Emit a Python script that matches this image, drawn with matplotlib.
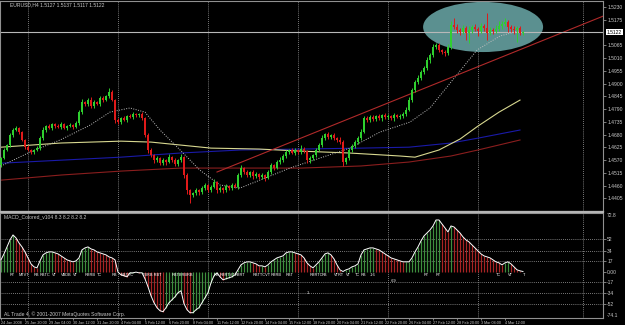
import numpy as np
import matplotlib
matplotlib.use("Agg")
import matplotlib.pyplot as plt
import matplotlib.transforms as mtransforms
from matplotlib.patches import Ellipse

plt.rcParams['font.family'] = ['Liberation Sans', 'DejaVu Sans']

# ---------------- data (EURUSD H4) ----------------
title_text = "EURUSD,H4 1.5127 1.5137 1.5117 1.5122"
macd_title = "MACD_Colored_v104 8.3 8.2 8.2 8.2"
copyright_text = "AL Trade 4, \u00a9 2001-2007 MetaQuotes Software Corp."

first_open = 1.4549
closes = [
    1.4579, 1.4614, 1.4635, 1.4678, 1.4700, 1.4708, 1.4691, 1.4657, 1.4626, 1.4614,
    1.4605, 1.4614, 1.4622, 1.4665, 1.4700, 1.4717, 1.4708, 1.4726, 1.4717, 1.4713,
    1.4726, 1.4708, 1.4717, 1.4721, 1.4713, 1.4730, 1.4777, 1.4820, 1.4812, 1.4829,
    1.4803, 1.4820, 1.4812, 1.4838, 1.4829, 1.4846, 1.4863, 1.4829, 1.4743, 1.4734,
    1.4751, 1.4743, 1.4760, 1.4756, 1.4769, 1.4764, 1.4769, 1.4751, 1.4678, 1.4614,
    1.4592, 1.4570, 1.4579, 1.4558, 1.4570, 1.4562, 1.4583, 1.4570, 1.4553, 1.4570,
    1.4583, 1.4506, 1.4441, 1.4420, 1.4428, 1.4441, 1.4433, 1.4450, 1.4463, 1.4441,
    1.4454, 1.4476, 1.4441, 1.4450, 1.4441, 1.4458, 1.4450, 1.4463, 1.4454, 1.4506,
    1.4536, 1.4519, 1.4506, 1.4519, 1.4501, 1.4510, 1.4497, 1.4506, 1.4493, 1.4519,
    1.4549, 1.4536, 1.4562, 1.4570, 1.4588, 1.4605, 1.4614, 1.4601, 1.4614, 1.4605,
    1.4618, 1.4609, 1.4570, 1.4579, 1.4592, 1.4614, 1.4635, 1.4665, 1.4682, 1.4670,
    1.4678, 1.4665, 1.4657, 1.4648, 1.4562, 1.4579, 1.4614, 1.4631, 1.4648, 1.4665,
    1.4691, 1.4751, 1.4743, 1.4756, 1.4747, 1.4760, 1.4751, 1.4764, 1.4756, 1.4760,
    1.4751, 1.4764, 1.4756, 1.4760, 1.4769, 1.4786, 1.4829, 1.4872, 1.4907, 1.4924,
    1.4950, 1.4967, 1.5001, 1.5023, 1.5057, 1.5066, 1.5045, 1.5036, 1.5032, 1.5057,
    1.5152, 1.5144, 1.5131, 1.5122, 1.5139, 1.5118, 1.5131, 1.5144, 1.5135, 1.5126,
    1.5148, 1.5139, 1.5118, 1.5131, 1.5126, 1.5135, 1.5148, 1.5157, 1.5165, 1.5144,
    1.5135, 1.5131, 1.5139, 1.5118, 1.5122,
]
# wick lengths in pips above / below the candle body
upper_wick = [
    5, 8, 6, 10, 7, 9, 4, 6, 5, 8,
    6, 4, 7, 9, 12, 5, 8, 6, 4, 7,
    9, 5, 6, 8, 4, 7, 10, 14, 6, 9,
    12, 8, 5, 10, 7, 6, 20, 8, 6, 9,
    5, 8, 6, 7, 9, 4, 6, 8, 5, 7,
    9, 6, 8, 5, 10, 7, 12, 6, 8, 5,
    14, 6, 8, 5, 7, 9, 6, 10, 8, 5,
    7, 12, 6, 8, 5, 9, 6, 7, 10, 8,
    14, 6, 9, 5, 7, 8, 6, 10, 5, 7,
    9, 6, 8, 12, 7, 10, 6, 8, 9, 5,
    16, 7, 6, 8, 5, 9, 10, 12, 7, 8,
    6, 9, 7, 14, 8, 6, 9, 7, 10, 8,
    12, 9, 10, 7, 8, 6, 9, 5, 8, 7,
    6, 9, 7, 8, 10, 12, 14, 10, 9, 12,
    8, 10, 12, 9, 14, 10, 8, 6, 9, 12,
    16, 30, 12, 9, 14, 10, 18, 8, 12, 9,
    14, 10, 65, 12, 9, 16, 20, 12, 18, 10,
    8, 12, 10, 9, 6,
]
lower_wick = [
    10, 6, 5, 8, 7, 6, 9, 5, 8, 6,
    7, 9, 5, 8, 6, 10, 5, 7, 9, 6,
    8, 5, 7, 6, 9, 5, 8, 6, 7, 10,
    6, 8, 5, 9, 7, 6, 8, 5, 12, 7,
    9, 6, 8, 5, 7, 6, 9, 8, 10, 12,
    8, 10, 6, 9, 7, 12, 6, 8, 10, 7,
    6, 14, 18, 35, 10, 8, 12, 9, 7, 10,
    8, 6, 12, 9, 14, 8, 10, 7, 6, 9,
    7, 10, 8, 9, 12, 7, 10, 8, 14, 6,
    8, 10, 6, 9, 7, 8, 10, 6, 9, 7,
    8, 6, 14, 10, 7, 9, 6, 8, 10, 7,
    9, 8, 10, 7, 16, 10, 8, 9, 7, 10,
    8, 6, 10, 7, 9, 8, 6, 10, 7, 9,
    8, 10, 6, 9, 7, 8, 6, 9, 10, 8,
    10, 7, 9, 12, 8, 6, 10, 9, 14, 8,
    10, 9, 12, 14, 8, 30, 45, 12, 9, 20,
    8, 12, 30, 9, 14, 10, 8, 12, 9, 20,
    12, 18, 50, 10, 8,
]
current_price = 1.5122

# moving averages drawn as polylines (bar index, price)
ma_fast_x = [0.7, 9.7, 19.7, 29.7, 36.3, 43, 48, 53, 59.7, 66.3, 73, 79.7, 86.3,
             96.3, 106.3, 116.3, 126.3, 136.3, 143, 149.7, 158.7, 166.3, 173.7]
ma_fast_y = [1.4549, 1.4605, 1.4657, 1.4721, 1.4777, 1.4795, 1.4777, 1.4700, 1.4614,
             1.4527, 1.4463, 1.4450, 1.4484, 1.4536, 1.4579, 1.4622, 1.4691, 1.4734,
             1.4795, 1.4902, 1.5045, 1.5105, 1.5131]
ma_yellow_x = [0, 20, 40, 50, 60, 70, 86, 100, 116, 133, 138, 146, 153, 159, 166, 173]
ma_yellow_y = [1.4626, 1.4644, 1.4652, 1.4648, 1.4635, 1.4622, 1.4618, 1.4609, 1.4601,
               1.4588, 1.4583, 1.4614, 1.4661, 1.4717, 1.4777, 1.4829]
ma_blue_x = [0, 20, 40, 60, 80, 100, 120, 136, 150, 159, 173]
ma_blue_y = [1.4557, 1.4570, 1.4583, 1.4601, 1.4614, 1.4618, 1.4622, 1.4626, 1.4644,
             1.4665, 1.4700]
ma_maroon_x = [0, 20, 40, 60, 80, 100, 120, 136, 150, 159, 173]
ma_maroon_y = [1.4484, 1.4506, 1.4523, 1.4536, 1.4536, 1.4536, 1.4545, 1.4562, 1.4588,
               1.4614, 1.4657]

trend_x = [72, 204]
trend_y = [1.4519, 1.5208]
ellipse_center = (160.7, 1.5144)
ellipse_size = (40, 0.0216)

# MACD histogram, one value per bar
macd = [
    19.2, 28.8, 40.0, 51.2, 59.2, 54.4, 46.4, 40.0, 32.0, 22.4,
    12.8, 8.0, 6.4, 17.6, 27.2, 30.4, 32.0, 32.0, 30.4, 28.8,
    25.6, 22.4, 19.2, 17.6, 16.0, 17.6, 22.4, 35.2, 38.4, 40.0,
    36.8, 35.2, 32.0, 30.4, 28.8, 27.2, 24.0, 22.4, 19.2, -0.5,
    -4.8, -6.4, -8.0, -1.6, -1.6, -0.5, -1.6, -1.6, -11.2, -24.0,
    -38.4, -49.6, -57.6, -62.4, -64.0, -57.6, -49.6, -44.8, -40.0, -33.6,
    -30.4, -51.2, -60.8, -65.6, -65.6, -60.8, -57.6, -49.6, -41.6, -33.6,
    -17.6, -6.4, -1.6, -8.0, -12.8, -11.2, -9.6, -8.0, -4.8, 3.2,
    11.2, 14.4, 16.0, 16.0, 14.4, 12.8, 9.6, 9.6, 8.0, 11.2,
    16.0, 19.2, 22.4, 24.0, 25.6, 30.4, 32.0, 32.0, 30.4, 28.8,
    27.2, 22.4, 14.4, 9.6, 6.4, 11.2, 16.0, 22.4, 28.8, 30.4,
    27.2, 20.8, 11.2, 3.2, 0.5, 3.2, 4.8, 8.0, 9.6, 12.8,
    27.2, 35.2, 36.8, 38.4, 38.4, 36.8, 35.2, 32.0, 28.8, 25.6,
    22.4, 20.8, 19.2, 17.6, 16.0, 16.0, 16.0, 22.4, 32.0, 40.0,
    49.6, 57.6, 62.4, 67.2, 73.6, 83.2, 83.2, 76.8, 70.4, 64.0,
    73.6, 72.0, 67.2, 62.4, 56.0, 51.2, 48.0, 43.2, 38.4, 33.6,
    28.8, 25.6, 24.0, 22.4, 19.2, 16.0, 14.4, 11.2, 14.4, 16.0,
    12.8, 8.0, 3.2, 1.6, 0.5,
]
macd_levels = [52, 34, 17, 0, -17, -34, -52]
macd_level_labels = ["52", "34", "17", "0.00", "-17", "-34", "-52"]
note_x = [3, 6, 11, 13, 17, 20, 24, 28, 32, 37, 40, 47, 57, 71, 73, 78, 84, 90, 95, 103,
          107, 111, 115, 118, 120, 123, 141, 145, 165, 169, 174]
note_text = ["RT", "MTVT", "RB", "RBTC", "VT", "VBDB", "VT", "RBRB", "TC", "RB", "RBTTC",
             "TBRB RBT", "RBTBRBRB", "RB", "RBRTVT", "RBRT", "RBTTCVT", "RBRB", "RBT",
             "RBRTC", "RB", "VTRT", "VT", "TC", "RB", "-16", "RT", "RT", "TC", "VT", "T"]

price_ticks = [1.5230, 1.5175, 1.5065, 1.5010, 1.4955, 1.4900, 1.4845, 1.4790, 1.4735,
               1.4680, 1.4625, 1.4570, 1.4515, 1.4460, 1.4405]
date_tick_bars = [0, 8, 16, 24, 32, 40, 48, 56, 64, 72, 80, 88, 96, 104, 112, 120, 128,
                  136, 144, 152, 160, 168]
date_labels = ["24 Jan 2008", "25 Jan 20:00", "29 Jan 04:00", "30 Jan 12:00",
               "31 Jan 20:00", "4 Feb 04:00", "5 Feb 12:00", "6 Feb 20:00",
               "8 Feb 04:00", "11 Feb 12:00", "12 Feb 20:00", "14 Feb 04:00",
               "15 Feb 12:00", "18 Feb 20:00", "20 Feb 04:00", "21 Feb 12:00",
               "22 Feb 20:00", "26 Feb 04:00", "27 Feb 12:00", "28 Feb 20:00",
               "3 Mar 04:00", "4 Mar 12:00"]
week_grid_bars = [9, 39, 69, 99, 129, 159, 194]

# ---------------- drawing ----------------
W, H = 625, 325
fig = plt.figure(figsize=(W / 100, H / 100), dpi=100, facecolor="black")
ax1 = fig.add_axes([0, (H - 211) / H, 603 / W, 210 / H], facecolor="black")
ax2 = fig.add_axes([0, (H - 318) / H, 603 / W, 105 / H], facecolor="black")

fg = "#c8c8c8"
fs = 3.6
xlim = (-0.33, 200.67)

idx = np.arange(len(closes))
c = np.array(closes)
o = np.concatenate([[first_open], c[:-1]])
top = np.maximum(o, c)
bot = np.minimum(o, c)
hi = top + np.array(upper_wick) * 0.0001
lo = bot - np.array(lower_wick) * 0.0001
cols = np.where(c >= o, "#2fcf2f", "#e01a1a")

# price panel
ax1.add_patch(Ellipse(ellipse_center, ellipse_size[0], ellipse_size[1],
                      facecolor="#5b9090", edgecolor="none", zorder=1))
for b in week_grid_bars:
    ax1.axvline(b, color="#a0a0a0", lw=0.6, ls=(0, (1, 1.5)), zorder=0)
ax1.plot(ma_maroon_x, ma_maroon_y, color="#8a1e1e", lw=0.8, zorder=2)
ax1.plot(ma_blue_x, ma_blue_y, color="#1a1aa8", lw=0.8, zorder=2)
ax1.plot(ma_yellow_x, ma_yellow_y, color="#d8d890", lw=0.8, zorder=2)
ax1.plot(ma_fast_x, ma_fast_y, color="#c0c0c0", lw=0.7, ls=(0, (1, 1.5)), zorder=2)
ax1.plot(trend_x, trend_y, color="#b02a2a", lw=0.8, zorder=2)
ax1.axhline(current_price, color="#b8b8b8", lw=0.8, zorder=2)
ax1.vlines(idx, lo, hi, colors=cols, lw=0.7, zorder=3)
ax1.bar(idx, np.maximum(top - bot, 0.0001), bottom=bot, width=0.7, color=cols,
        linewidth=0, zorder=4)

ax1.set_xlim(*xlim)
ax1.set_ylim(1.4351, 1.5256)
ax1.yaxis.tick_right()
ax1.set_yticks(price_ticks)
ax1.set_yticklabels(["%.4f" % p for p in price_ticks])
ax1.set_xticks([])
ax1.text(3, 1.5240, title_text, color=fg, fontsize=fs, va="center", ha="left")
trans = mtransforms.blended_transform_factory(ax1.transAxes, ax1.transData)
ax1.text(1.006, current_price, "%.4f" % current_price, transform=trans, fontsize=fs,
         color="black", va="center", ha="left",
         bbox=dict(facecolor="white", edgecolor="none", pad=0.6))

# MACD panel
hist_cols = ["#3e8e3e" if i == 0 or macd[i] >= macd[i - 1] else "#a82424"
             for i in range(len(macd))]
for lv in macd_levels:
    if lv != 0:
        ax2.axhline(lv, color="#a0a0a0", lw=0.6, ls=(0, (1, 1.5)), zorder=0)
for b in week_grid_bars:
    ax2.axvline(b, color="#a0a0a0", lw=0.6, ls=(0, (1, 1.5)), zorder=0)
ax2.vlines(idx, 0, macd, colors=hist_cols, lw=0.9, zorder=2)
ax2.plot(idx, macd, color="white", lw=0.7, zorder=3)
for bx, t in zip(note_x, note_text):
    ax2.text(bx, -4.5, t, color="white", fontsize=2.8, ha="left", va="center", zorder=4)
ax2.text(130, -15, "-69", color="white", fontsize=2.8, ha="left", va="center")
ax2.text(102, -34, "1", color="white", fontsize=2.8, ha="left", va="center")

ax2.set_xlim(*xlim)
ax2.set_ylim(-74.1, 94.4)
ax2.yaxis.tick_right()
ax2.set_yticks(macd_levels)
ax2.set_yticklabels(macd_level_labels)
ax2.set_xticks(date_tick_bars)
ax2.set_xticklabels(date_labels, ha="left", fontsize=2.7)
tr2 = mtransforms.blended_transform_factory(ax2.transAxes, ax2.transData)
ax2.text(1.006, 90, "72.8", transform=tr2, color=fg, fontsize=fs, va="center", ha="left")
ax2.text(1.006, -70, "-74.1", transform=tr2, color=fg, fontsize=fs, va="center", ha="left")
ax2.text(1, 88, macd_title, color=fg, fontsize=fs, va="center", ha="left")
ax2.text(1, -68, copyright_text, color=fg, fontsize=fs, va="center", ha="left")

for ax in (ax1, ax2):
    for s in ax.spines.values():
        s.set_color("#909090")
        s.set_linewidth(0.8)
    ax.tick_params(colors="#909090", labelcolor=fg, labelsize=fs, length=2,
                   width=0.6, pad=1)
ax2.tick_params(axis="x", pad=0.3, length=1.5, labelsize=2.7)

# thick separator between the two windows
fig.add_artist(plt.Line2D([0, 603 / W], [(H - 212) / H] * 2, color="#b4b4b4", lw=1.6))

fig.savefig("out.png", dpi=100, facecolor="black")
